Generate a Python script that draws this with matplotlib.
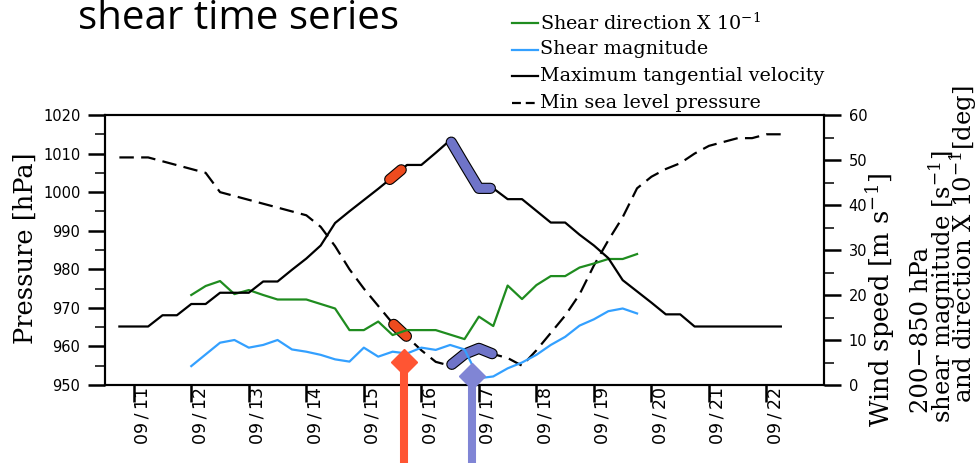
import matplotlib
matplotlib.use("Agg")
import matplotlib.pyplot as plt
import matplotlib.transforms as mtransforms
import matplotlib.patheffects as pe
from matplotlib.lines import Line2D
import numpy as np

plt.rcParams['mathtext.fontset'] = 'dejavuserif'

# time in days of September, 6-hourly (09/10 18Z .. 09/22 06Z)
time = np.arange(10.75, 22.26, 0.25)
vmax = [13, 13, 13, 15.5, 15.5, 18, 18, 20.5, 20.5, 20.5, 23, 23, 25.6, 28.1,
        31, 36, 38.6, 41.1, 43.6, 46.2, 48.9, 48.9, 51.6, 54.4, 49, 43.7, 43.7,
        41.3, 41.3, 38.7, 36.1, 36.1, 33.4, 31, 28.2, 23.3, 20.8, 18.3, 15.7,
        15.7, 13, 13, 13, 13, 13, 13, 13]
mslp = [1009, 1009, 1009, 1008, 1007, 1006, 1005, 1000, 999, 998, 997, 996,
        995, 994, 991, 986, 980, 975, 970.5, 966, 962.5, 959, 956, 955, 958,
        959.5, 958, 957, 955, 959, 963.5, 968, 973.5, 981, 987.5, 993.5, 1001,
        1004, 1006, 1007.5, 1010, 1012, 1013, 1014, 1014, 1015, 1015]

# shear, 09/12 00Z .. 09/19 18Z
shear_time = np.arange(12.0, 19.76, 0.25)
shear_dir = [20, 22, 23.1, 20.2, 21.1, 20, 19, 19, 19, 18, 17, 12.2, 12.2,
             14.1, 11.1, 12.2, 12.2, 12.2, 11.2, 10.2, 15.2, 13.1, 22.1, 19.1,
             22.2, 24.2, 24.2, 26.1, 27, 28, 28, 29.1]
shear_mag = [4.2, 6.8, 9.4, 10.0, 8.3, 8.9, 10.0, 7.9, 7.4, 6.7, 5.7, 5.2, 8.3,
             6.3, 7.4, 7.0, 8.3, 7.8, 8.9, 7.9, 1.5, 1.9, 3.7, 5.0, 6.7, 8.9,
             10.7, 13.2, 14.6, 16.4, 17.0, 15.9]

tick_days = np.arange(11, 23)
tick_labels = ["09\u2009/\u2009%02d" % d for d in tick_days]

# highlighted periods (start, end) and arrow times
orange_vmax = (15.45, 15.65)
orange_slp = (15.52, 15.74)
purple_vmax = (16.52, 17.2)
purple_slp = (16.53, 17.23)
arrow_times = [15.69, 16.88]

ORANGE = '#ee4b1e'
PURPLE = '#6f74c8'


def highlight(axis, t, y, span, color):
    t0, t1 = span
    inside = (t > t0) & (t < t1)
    ts = np.concatenate([[t0], t[inside], [t1]])
    ys = np.interp(ts, t, y)
    axis.plot(ts, ys, color=color, lw=6.5, solid_capstyle='round',
              solid_joinstyle='round', zorder=5,
              path_effects=[pe.Stroke(linewidth=8.1, foreground='black',
                                      capstyle='round', joinstyle='round'),
                            pe.Normal()])


fig = plt.figure(figsize=(9.8, 4.63), dpi=100)
ax = fig.add_axes([105 / 980, 1 - 385 / 463, 719 / 980, 270 / 463])
ax2 = ax.twinx()

ax.plot(time, mslp, color='black', lw=1.6, dashes=(6.5, 3.3))
highlight(ax, time, mslp, orange_slp, ORANGE)
highlight(ax, time, mslp, purple_slp, PURPLE)

ax2.plot(shear_time, shear_dir, color='#1f8c1f', lw=1.6)
ax2.plot(shear_time, shear_mag, color='#33a0ff', lw=1.6)
ax2.plot(time, vmax, color='black', lw=1.6)
highlight(ax2, time, np.array(vmax), orange_vmax, ORANGE)
highlight(ax2, time, np.array(vmax), purple_vmax, PURPLE)

ax.set_xlim(10.5, 23.0)
ax.set_ylim(950, 1020)
ax2.set_ylim(0, 60)
ax.set_yticks(np.arange(950, 1021, 10))
ax.set_yticks(np.arange(955, 1020, 10), minor=True)
ax2.set_yticks(np.arange(0, 61, 10))
ax2.set_yticks(np.arange(5, 60, 10), minor=True)
ax.set_xticks(tick_days)
ax.set_xticklabels(tick_labels)

ax.tick_params(axis='y', which='major', direction='out', length=12.2,
               width=1.8, labelsize=10.5, pad=5.5)
ax.tick_params(axis='y', which='minor', direction='out', length=7,
               width=1.1)
ax2.tick_params(axis='y', which='major', direction='out', length=12.2,
                width=1.8, labelsize=10.5, pad=5.5)
ax2.tick_params(axis='y', which='minor', direction='out', length=7,
                width=1.1)
ax.tick_params(axis='x', which='major', direction='out', length=12.2,
               width=1.8, labelsize=12.5, pad=-11, labelrotation=90)
for lab in ax.get_xticklabels():
    lab.set_ha('left')
    lab.set_va('top')

for a in (ax, ax2):
    for s in a.spines.values():
        s.set_linewidth(1.5)

# arrows pointing at the highlighted periods
blend = mtransforms.blended_transform_factory(ax2.transData, ax2.transAxes)
for t, yc, col in zip(arrow_times, [0.085, 0.033], ['#ff5533', '#8085d5']):
    ax2.plot([t, t], [-0.32, yc], transform=blend, color=col, lw=5.8,
             solid_capstyle='butt', clip_on=False, zorder=10)
    ax2.plot([t], [yc], transform=blend, marker='D', ms=13, color=col,
             mec=col, clip_on=False, zorder=10)


def side_label(x_base, y_start, text, size, ha='left'):
    # rotated text: baseline at x_base (px), text starting at y_start (px)
    fig.text(x_base / 980, 1 - y_start / 463, text, rotation=90,
             rotation_mode='anchor', ha=ha, va='baseline',
             family='DejaVu Serif', size=size)


side_label(33, 248.5, 'Pressure [hPa]', 18.5, ha='center')
side_label(890, 427, 'Wind speed [m s$^{-1}$]', 18.5)
side_label(928, 413, '200\u2212850 hPa', 17.5)
side_label(951, 423, 'shear magnitude [s$^{-1}$]', 17.5)
side_label(972, 403, 'and direction X 10$^{-1}$[deg]', 17.5)

fig.text(78 / 980, 1 - 29 / 463, 'shear time series', family='Open Sans',
         size=29, ha='left', va='baseline')

# legend
legend_items = [('Shear direction X 10$^{-1}$', '#1f8c1f', '-'),
                ('Shear magnitude', '#33a0ff', '-'),
                ('Maximum tangential velocity', 'black', '-'),
                ('Min sea level pressure', 'black', '--')]
for i, (lab, col, ls) in enumerate(legend_items):
    yy = 1 - (23 + i * 26.5) / 463
    ln = Line2D([512 / 980, 538 / 980], [yy, yy], transform=fig.transFigure,
                color=col, lw=1.6)
    if ls == '--':
        ln.set_dashes((4.0, 2.2))
    fig.add_artist(ln)
    fig.text(540 / 980, yy, lab, family='DejaVu Serif', size=13.8,
             ha='left', va='center')

fig.savefig('out.png', dpi=100)
